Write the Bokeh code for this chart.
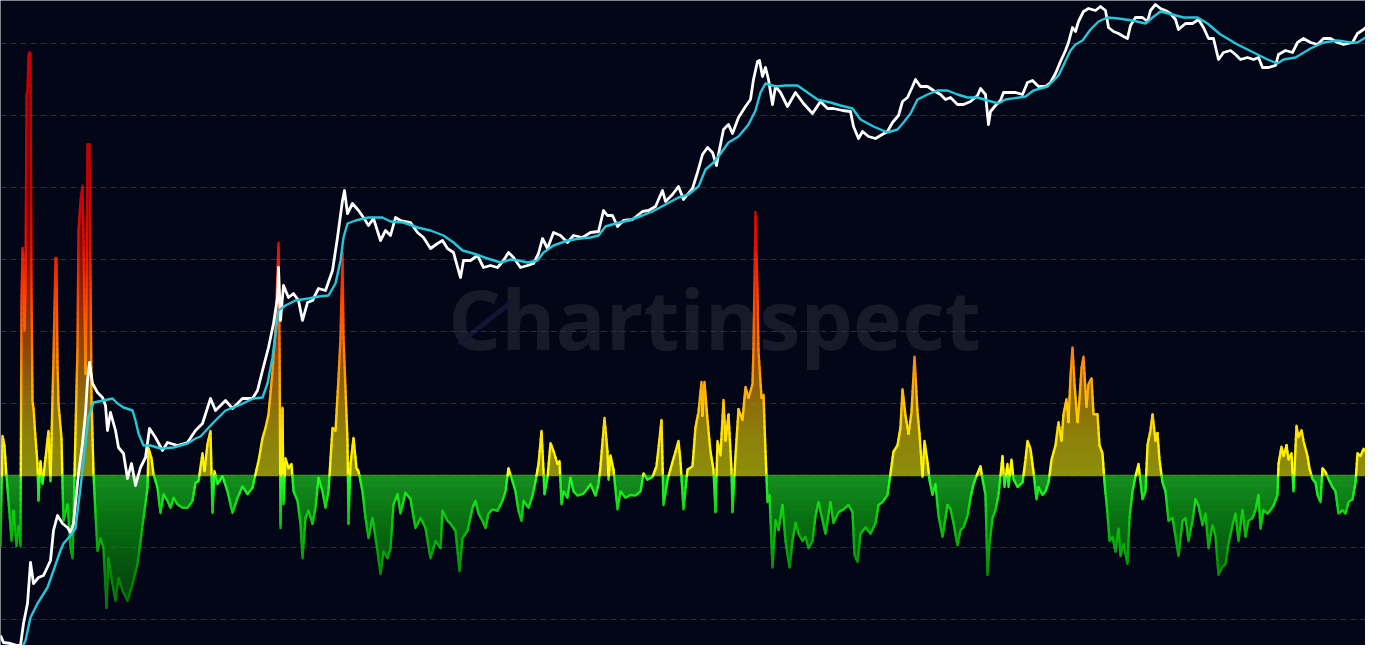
import numpy as np
from bokeh.plotting import figure
from bokeh.models import Range1d, Grid, FixedTicker, Span
from bokeh.core.properties import value
from bokeh.embed import file_html
from bokeh.resources import INLINE

# ---------------- data ----------------
# price (white) : decimal year / log10 price
price_year = [2010.50, 2010.53, 2010.60, 2010.67, 2010.70, 2010.73, 2010.77, 2010.80, 2010.83, 2010.88,
              2010.93, 2011.00, 2011.03, 2011.07, 2011.12, 2011.17, 2011.20, 2011.23, 2011.28, 2011.32,
              2011.35, 2011.37, 2011.39, 2011.42, 2011.47, 2011.52, 2011.55, 2011.57, 2011.60, 2011.65,
              2011.68, 2011.73, 2011.77, 2011.81, 2011.85, 2011.90, 2011.95, 2011.99, 2012.05, 2012.12,
              2012.17, 2012.27, 2012.37, 2012.45, 2012.52, 2012.60, 2012.65, 2012.75, 2012.82, 2012.92,
              2013.02, 2013.07, 2013.12, 2013.18, 2013.23, 2013.27, 2013.28, 2013.30, 2013.33, 2013.38,
              2013.43, 2013.48, 2013.52, 2013.57, 2013.62, 2013.68, 2013.75, 2013.82, 2013.87, 2013.92,
              2013.94, 2013.97, 2014.02, 2014.08, 2014.13, 2014.18, 2014.23, 2014.30, 2014.35, 2014.40,
              2014.45, 2014.50, 2014.60, 2014.67, 2014.73, 2014.80, 2014.87, 2014.92, 2014.97, 2015.03,
              2015.08, 2015.10, 2015.13, 2015.20, 2015.27, 2015.33, 2015.40, 2015.47, 2015.53, 2015.58,
              2015.63, 2015.70, 2015.77, 2015.83, 2015.88, 2015.92, 2015.97, 2016.03, 2016.10, 2016.17,
              2016.23, 2016.32, 2016.40, 2016.48, 2016.53, 2016.57, 2016.62, 2016.67, 2016.73, 2016.82,
              2016.92, 2016.98, 2017.05, 2017.12, 2017.15, 2017.22, 2017.28, 2017.33, 2017.37, 2017.42,
              2017.47, 2017.52, 2017.57, 2017.62, 2017.66, 2017.68, 2017.73, 2017.78, 2017.82, 2017.88,
              2017.95, 2018.00, 2018.03, 2018.07, 2018.09, 2018.12, 2018.15, 2018.18, 2018.22, 2018.25,
              2018.30, 2018.37, 2018.45, 2018.53, 2018.62, 2018.70, 2018.77, 2018.83, 2018.92, 2019.00,
              2019.03, 2019.08, 2019.12, 2019.18, 2019.25, 2019.30, 2019.37, 2019.42, 2019.48, 2019.52,
              2019.57, 2019.62, 2019.65, 2019.70, 2019.77, 2019.83, 2019.90, 2019.95, 2020.00, 2020.07,
              2020.13, 2020.20, 2020.27, 2020.30, 2020.35, 2020.38, 2020.40, 2020.45, 2020.50, 2020.53,
              2020.58, 2020.65, 2020.72, 2020.77, 2020.82, 2020.88, 2020.95, 2021.00, 2021.05, 2021.10,
              2021.15, 2021.18, 2021.22, 2021.25, 2021.28, 2021.33, 2021.38, 2021.45, 2021.50, 2021.55,
              2021.58, 2021.63, 2021.68, 2021.73, 2021.77, 2021.80, 2021.85, 2021.92, 2021.97, 2022.00,
              2022.05, 2022.10, 2022.15, 2022.20, 2022.25, 2022.28, 2022.35, 2022.42, 2022.48, 2022.53,
              2022.58, 2022.63, 2022.68, 2022.73, 2022.80, 2022.85, 2022.90, 2022.97, 2023.03, 2023.08,
              2023.12, 2023.18, 2023.25, 2023.28, 2023.35, 2023.42, 2023.47, 2023.53, 2023.60, 2023.67,
              2023.73, 2023.80, 2023.87, 2023.93, 2024.02, 2024.07, 2024.13, 2024.20, 2024.27, 2024.31]
price_log10 = [-1.35, -1.42, -1.43, -1.45, -1.45, -1.23, -1.03, -0.62, -0.83, -0.77,
               -0.75, -0.60, -0.30, -0.15, -0.23, -0.27, -0.32, -0.23, 0.27, 0.57,
               0.87, 1.20, 1.38, 1.17, 1.08, 1.03, 0.95, 0.70, 0.88, 0.70,
               0.53, 0.47, 0.22, 0.37, 0.15, 0.33, 0.43, 0.72, 0.63, 0.50,
               0.58, 0.55, 0.58, 0.70, 0.77, 1.02, 0.90, 1.00, 0.92, 1.02,
               1.02, 1.10, 1.30, 1.53, 1.77, 2.03, 2.33, 1.80, 2.15, 2.03,
               2.07, 2.00, 1.80, 1.98, 2.00, 2.12, 2.10, 2.30, 2.63, 3.00,
               3.10, 2.87, 2.97, 2.90, 2.83, 2.75, 2.82, 2.60, 2.70, 2.65,
               2.83, 2.80, 2.78, 2.68, 2.63, 2.52, 2.57, 2.60, 2.52, 2.48,
               2.30, 2.23, 2.40, 2.40, 2.45, 2.33, 2.35, 2.33, 2.40, 2.48,
               2.43, 2.33, 2.35, 2.37, 2.47, 2.62, 2.52, 2.68, 2.65, 2.58,
               2.65, 2.63, 2.68, 2.69, 2.90, 2.85, 2.85, 2.74, 2.80, 2.81,
               2.89, 2.90, 2.94, 3.10, 2.99, 3.06, 3.14, 3.01, 3.06, 3.12,
               3.28, 3.46, 3.53, 3.48, 3.35, 3.46, 3.71, 3.76, 3.67, 3.83,
               3.94, 4.01, 4.21, 4.39, 4.40, 4.24, 4.33, 4.21, 3.96, 4.14,
               4.08, 3.94, 4.08, 3.97, 3.87, 3.99, 3.92, 3.92, 3.90, 3.89,
               3.74, 3.62, 3.69, 3.64, 3.62, 3.65, 3.69, 3.78, 3.85, 3.99,
               4.03, 4.14, 4.21, 4.14, 4.14, 4.10, 4.06, 4.01, 4.03, 3.96,
               3.96, 3.99, 4.05, 4.12, 4.06, 3.76, 3.89, 3.95, 4.00, 4.08,
               4.08, 4.08, 4.06, 4.18, 4.20, 4.14, 4.14, 4.18, 4.27, 4.39,
               4.50, 4.58, 4.73, 4.69, 4.79, 4.89, 4.92, 4.90, 4.94, 4.90,
               4.73, 4.69, 4.67, 4.64, 4.62, 4.75, 4.83, 4.83, 4.79, 4.90,
               4.96, 4.92, 4.90, 4.87, 4.81, 4.71, 4.77, 4.77, 4.81, 4.73,
               4.62, 4.62, 4.41, 4.48, 4.50, 4.46, 4.41, 4.43, 4.41, 4.43,
               4.33, 4.33, 4.35, 4.46, 4.50, 4.48, 4.58, 4.62, 4.58, 4.56,
               4.62, 4.62, 4.58, 4.56, 4.58, 4.67, 4.71, 4.77, 4.79, 4.81]

# moving average (cyan) : decimal year / log10 price
ma_year = [2010.50, 2010.60, 2010.70, 2010.75, 2010.80, 2010.87, 2010.97, 2011.03, 2011.10, 2011.13,
           2011.20, 2011.25, 2011.30, 2011.35, 2011.38, 2011.43, 2011.53, 2011.62, 2011.67, 2011.73,
           2011.82, 2011.85, 2011.88, 2011.93, 2012.00, 2012.10, 2012.23, 2012.37, 2012.45, 2012.50,
           2012.62, 2012.75, 2012.88, 2013.03, 2013.12, 2013.17, 2013.22, 2013.25, 2013.28, 2013.35,
           2013.45, 2013.58, 2013.68, 2013.78, 2013.85, 2013.90, 2013.93, 2013.97, 2014.05, 2014.18,
           2014.32, 2014.40, 2014.53, 2014.67, 2014.80, 2014.93, 2015.03, 2015.12, 2015.23, 2015.37,
           2015.50, 2015.60, 2015.68, 2015.77, 2015.87, 2015.93, 2016.03, 2016.17, 2016.30, 2016.40,
           2016.48, 2016.55, 2016.65, 2016.78, 2016.92, 2017.02, 2017.15, 2017.28, 2017.38, 2017.48,
           2017.55, 2017.62, 2017.68, 2017.78, 2017.88, 2017.98, 2018.05, 2018.10, 2018.15, 2018.25,
           2018.35, 2018.47, 2018.57, 2018.67, 2018.80, 2018.90, 2019.02, 2019.10, 2019.23, 2019.37,
           2019.47, 2019.53, 2019.60, 2019.67, 2019.77, 2019.87, 2019.97, 2020.07, 2020.17, 2020.27,
           2020.37, 2020.48, 2020.55, 2020.75, 2020.83, 2020.97, 2021.08, 2021.20, 2021.25, 2021.32,
           2021.40, 2021.48, 2021.57, 2021.68, 2021.82, 2021.95, 2022.02, 2022.10, 2022.18, 2022.33,
           2022.47, 2022.57, 2022.70, 2022.87, 2023.03, 2023.17, 2023.27, 2023.33, 2023.45, 2023.60,
           2023.73, 2023.87, 2024.00, 2024.07, 2024.20, 2024.31]
ma_log10 = [-1.58, -1.53, -1.51, -1.40, -1.17, -1.03, -0.87, -0.70, -0.50, -0.43,
            -0.35, -0.28, 0.13, 0.57, 0.83, 0.98, 1.00, 1.02, 0.97, 0.93,
            0.90, 0.80, 0.67, 0.55, 0.55, 0.52, 0.53, 0.57, 0.62, 0.64,
            0.77, 0.90, 0.95, 1.02, 1.03, 1.17, 1.43, 1.67, 1.90, 1.95,
            2.00, 2.02, 2.04, 2.05, 2.17, 2.40, 2.63, 2.77, 2.80, 2.83,
            2.83, 2.79, 2.78, 2.73, 2.70, 2.65, 2.58, 2.50, 2.47, 2.42,
            2.38, 2.41, 2.40, 2.38, 2.40, 2.48, 2.55, 2.60, 2.62, 2.63,
            2.65, 2.74, 2.77, 2.80, 2.85, 2.89, 2.96, 3.03, 3.06, 3.14,
            3.31, 3.37, 3.44, 3.58, 3.64, 3.76, 3.90, 4.08, 4.17, 4.14,
            4.15, 4.15, 4.08, 4.01, 3.98, 3.95, 3.92, 3.81, 3.74, 3.68,
            3.71, 3.78, 3.87, 4.01, 4.06, 4.10, 4.10, 4.06, 4.03, 4.03,
            4.00, 3.97, 4.01, 4.04, 4.10, 4.14, 4.25, 4.50, 4.56, 4.60,
            4.71, 4.79, 4.83, 4.82, 4.80, 4.77, 4.83, 4.89, 4.87, 4.83,
            4.83, 4.77, 4.66, 4.56, 4.48, 4.41, 4.37, 4.41, 4.43, 4.52,
            4.58, 4.60, 4.58, 4.58, 4.66, 4.71]

# oscillator : decimal year / value (0 = neutral)
osc_year = [2010.50, 2010.52, 2010.54, 2010.56, 2010.58, 2010.61, 2010.63, 2010.66, 2010.68, 2010.70,
            2010.71, 2010.72, 2010.73, 2010.74, 2010.75, 2010.76, 2010.77, 2010.78, 2010.79, 2010.80,
            2010.81, 2010.82, 2010.83, 2010.85, 2010.87, 2010.88, 2010.90, 2010.92, 2010.95, 2010.98,
            2011.00, 2011.02, 2011.03, 2011.05, 2011.06, 2011.07, 2011.08, 2011.11, 2011.12, 2011.13,
            2011.17, 2011.20, 2011.22, 2011.23, 2011.25, 2011.27, 2011.28, 2011.30, 2011.32, 2011.33,
            2011.35, 2011.36, 2011.37, 2011.39, 2011.41, 2011.43, 2011.45, 2011.47, 2011.50, 2011.53,
            2011.56, 2011.58, 2011.62, 2011.65, 2011.68, 2011.72, 2011.77, 2011.82, 2011.87, 2011.90,
            2011.93, 2011.97, 2011.98, 2012.01, 2012.03, 2012.07, 2012.10, 2012.13, 2012.17, 2012.20,
            2012.23, 2012.27, 2012.32, 2012.37, 2012.42, 2012.45, 2012.48, 2012.52, 2012.54, 2012.57,
            2012.60, 2012.62, 2012.64, 2012.67, 2012.72, 2012.77, 2012.82, 2012.87, 2012.92, 2012.97,
            2013.02, 2013.05, 2013.08, 2013.12, 2013.15, 2013.18, 2013.22, 2013.25, 2013.28, 2013.29,
            2013.30, 2013.32, 2013.33, 2013.35, 2013.38, 2013.41, 2013.43, 2013.47, 2013.50, 2013.52,
            2013.55, 2013.58, 2013.62, 2013.65, 2013.68, 2013.72, 2013.75, 2013.78, 2013.82, 2013.85,
            2013.88, 2013.90, 2013.92, 2013.93, 2013.97, 2013.98, 2014.00, 2014.03, 2014.06, 2014.08,
            2014.12, 2014.15, 2014.18, 2014.22, 2014.27, 2014.30, 2014.33, 2014.37, 2014.40, 2014.43,
            2014.47, 2014.50, 2014.55, 2014.60, 2014.65, 2014.70, 2014.75, 2014.80, 2014.85, 2014.90,
            2014.92, 2014.97, 2015.00, 2015.05, 2015.09, 2015.12, 2015.17, 2015.22, 2015.25, 2015.28,
            2015.32, 2015.35, 2015.38, 2015.42, 2015.47, 2015.52, 2015.55, 2015.58, 2015.62, 2015.65,
            2015.68, 2015.71, 2015.73, 2015.78, 2015.82, 2015.85, 2015.88, 2015.91, 2015.93, 2015.94,
            2015.97, 2016.00, 2016.03, 2016.07, 2016.09, 2016.11, 2016.13, 2016.17, 2016.20, 2016.23,
            2016.27, 2016.32, 2016.35, 2016.40, 2016.45, 2016.48, 2016.50, 2016.54, 2016.57, 2016.58,
            2016.60, 2016.63, 2016.67, 2016.70, 2016.75, 2016.80, 2016.85, 2016.90, 2016.93, 2016.97,
            2017.02, 2017.06, 2017.08, 2017.11, 2017.13, 2017.17, 2017.22, 2017.25, 2017.28, 2017.30,
            2017.33, 2017.37, 2017.42, 2017.45, 2017.48, 2017.51, 2017.52, 2017.54, 2017.57, 2017.60,
            2017.63, 2017.65, 2017.67, 2017.70, 2017.73, 2017.75, 2017.78, 2017.81, 2017.82, 2017.85,
            2017.88, 2017.92, 2017.95, 2017.98, 2018.02, 2018.03, 2018.05, 2018.07, 2018.08, 2018.11,
            2018.13, 2018.15, 2018.17, 2018.19, 2018.22, 2018.25, 2018.28, 2018.32, 2018.35, 2018.37,
            2018.39, 2018.42, 2018.45, 2018.48, 2018.52, 2018.55, 2018.58, 2018.62, 2018.65, 2018.68,
            2018.72, 2018.75, 2018.80, 2018.83, 2018.88, 2018.93, 2018.98, 2019.02, 2019.04, 2019.07,
            2019.10, 2019.15, 2019.20, 2019.25, 2019.28, 2019.32, 2019.37, 2019.40, 2019.43, 2019.47,
            2019.50, 2019.52, 2019.55, 2019.58, 2019.61, 2019.64, 2019.67, 2019.69, 2019.72, 2019.74,
            2019.77, 2019.79, 2019.82, 2019.85, 2019.88, 2019.92, 2019.97, 2020.00, 2020.03, 2020.07,
            2020.10, 2020.13, 2020.17, 2020.20, 2020.23, 2020.27, 2020.30, 2020.32, 2020.35, 2020.37,
            2020.39, 2020.42, 2020.45, 2020.48, 2020.52, 2020.54, 2020.57, 2020.58, 2020.61, 2020.63,
            2020.67, 2020.72, 2020.75, 2020.77, 2020.80, 2020.83, 2020.86, 2020.88, 2020.92, 2020.95,
            2020.98, 2021.01, 2021.05, 2021.08, 2021.11, 2021.13, 2021.16, 2021.18, 2021.20, 2021.22,
            2021.24, 2021.27, 2021.29, 2021.31, 2021.33, 2021.36, 2021.38, 2021.41, 2021.43, 2021.47,
            2021.49, 2021.52, 2021.54, 2021.57, 2021.59, 2021.62, 2021.65, 2021.68, 2021.70, 2021.73,
            2021.77, 2021.79, 2021.82, 2021.85, 2021.88, 2021.92, 2021.95, 2021.97, 2022.00, 2022.02,
            2022.05, 2022.07, 2022.09, 2022.12, 2022.15, 2022.18, 2022.22, 2022.25, 2022.28, 2022.32,
            2022.35, 2022.38, 2022.42, 2022.45, 2022.48, 2022.52, 2022.55, 2022.58, 2022.62, 2022.65,
            2022.68, 2022.72, 2022.75, 2022.78, 2022.82, 2022.85, 2022.88, 2022.92, 2022.95, 2022.98,
            2023.02, 2023.05, 2023.08, 2023.10, 2023.13, 2023.17, 2023.20, 2023.23, 2023.27, 2023.28,
            2023.31, 2023.33, 2023.36, 2023.38, 2023.41, 2023.43, 2023.46, 2023.48, 2023.51, 2023.53,
            2023.57, 2023.59, 2023.62, 2023.65, 2023.67, 2023.70, 2023.72, 2023.75, 2023.78, 2023.82,
            2023.85, 2023.88, 2023.92, 2023.95, 2023.98, 2024.02, 2024.05, 2024.07, 2024.10, 2024.13,
            2024.17, 2024.20, 2024.23, 2024.27, 2024.31]
osc_value = [-0.98, 0.55, 0.41, -0.01, -0.35, -0.91, -0.49, -0.98, -0.70, -0.98,
             2.42, 3.16, 3.05, 2.01, 2.56, 5.30, 5.34, 5.83, 5.88, 5.87,
             2.56, 1.03, 0.94, 0.52, 0.16, -0.35, 0.20, -0.12, 0.24, 0.62,
             -0.08, 1.08, 1.63, 3.02, 3.02, 1.55, 0.99, 0.52, -0.12, -0.63,
             -0.40, -1.01, -1.15, -0.63, 0.62, 1.77, 3.40, 3.81, 4.02, 3.35,
             1.41, 2.42, 4.60, 4.60, 1.08, 0.02, -0.53, -1.05, -0.87, -1.01,
             -1.84, -1.15, -1.51, -1.74, -1.42, -1.60, -1.74, -1.51, -1.23, -0.91,
             -0.59, -0.17, 0.38, 0.24, 0.02, -0.17, -0.52, -0.26, -0.35, -0.45,
             -0.31, -0.40, -0.45, -0.45, -0.35, -0.10, -0.08, 0.31, 0.06, 0.44,
             0.62, -0.52, 0.06, -0.12, -0.01, -0.22, -0.52, -0.31, -0.15, -0.26,
             -0.17, 0.02, 0.20, 0.52, 0.66, 0.85, 1.45, 2.01, 3.23, 1.91,
             -0.73, 0.94, -0.40, 0.24, 0.10, 0.16, -0.22, -0.35, -0.67, -1.15,
             -0.59, -0.49, -0.67, -0.45, -0.03, -0.22, -0.45, -0.22, 0.66, 0.62,
             1.35, 1.91, 3.09, 1.91, 0.48, -0.67, 0.16, 0.52, 0.10, 0.06,
             -0.22, -0.59, -0.87, -0.59, -1.05, -1.37, -1.05, -1.15, -1.01, -0.40,
             -0.26, -0.53, -0.24, -0.33, -0.73, -0.59, -0.73, -1.15, -0.91, -1.01,
             -0.49, -0.63, -0.67, -0.77, -1.33, -0.87, -0.77, -0.45, -0.35, -0.53,
             -0.63, -0.73, -0.53, -0.47, -0.49, -0.35, -0.22, 0.10, -0.08, -0.22,
             -0.49, -0.63, -0.35, -0.45, -0.28, -0.08, 0.16, 0.62, 0.06, -0.26,
             -0.03, 0.45, 0.34, 0.16, 0.20, -0.40, -0.22, -0.31, -0.03, -0.22,
             -0.28, -0.26, -0.22, -0.12, -0.28, -0.12, 0.13, 0.80, 0.33, -0.06,
             0.28, 0.08, -0.47, -0.22, -0.31, -0.27, -0.28, -0.22, 0.03, -0.06,
             -0.02, 0.13, 0.38, 0.77, -0.41, -0.06, 0.19, 0.33, 0.48, 0.19,
             -0.47, 0.08, 0.13, 0.67, 0.88, 1.30, 0.83, 1.30, 0.77, 0.33,
             0.08, -0.51, 0.48, 0.28, 1.05, 0.48, 0.85, 0.08, -0.51, 0.28,
             0.92, 0.77, 1.23, 1.08, 1.27, 1.77, 3.66, 2.56, 1.72, 1.08,
             1.12, 0.33, -0.37, -0.27, -1.28, -0.62, -0.76, -0.41, -0.91, -1.10,
             -1.28, -0.91, -0.66, -0.81, -0.91, -0.85, -1.01, -0.91, -0.56, -0.37,
             -0.62, -0.81, -0.37, -0.66, -0.51, -0.47, -0.41, -0.51, -1.10, -1.20,
             -0.81, -0.72, -0.81, -0.66, -0.41, -0.37, -0.27, 0.03, 0.33, 0.42,
             0.67, 1.20, 0.83, 0.58, 0.88, 1.65, 0.88, 0.58, -0.02, 0.48,
             0.19, -0.06, -0.27, -0.12, -0.56, -0.85, -0.41, -0.47, -0.66, -0.97,
             -0.76, -0.72, -0.56, -0.31, -0.12, 0.03, 0.13, -0.05, -0.27, -1.38,
             -0.95, -0.59, -0.48, -0.27, 0.27, -0.16, 0.16, -0.16, 0.22, -0.05,
             -0.16, -0.10, 0.22, 0.48, 0.37, 0.05, -0.33, -0.16, -0.27, -0.22,
             -0.10, 0.22, 0.42, 0.74, 0.48, 0.85, 1.06, 0.74, 1.38, 1.78,
             1.27, 0.74, 1.06, 1.49, 1.65, 0.95, 1.27, 1.35, 0.85, 0.85,
             0.42, 0.31, -0.10, -0.53, -0.91, -0.85, -1.06, -0.74, -1.12, -0.95,
             -1.23, -0.59, -0.22, -0.01, 0.16, -0.33, -0.22, 0.42, 0.63, 0.85,
             0.48, 0.59, 0.22, -0.10, -0.22, -0.63, -0.59, -0.85, -1.12, -0.63,
             -0.59, -0.91, -0.63, -0.33, -0.42, -0.69, -0.53, -1.01, -0.69, -0.85,
             -1.38, -1.27, -1.23, -0.95, -0.69, -0.53, -0.91, -0.48, -0.85, -0.63,
             -0.59, -0.48, -0.27, -0.74, -0.48, -0.53, -0.48, -0.42, -0.27, 0.16,
             0.40, 0.27, 0.42, 0.22, 0.31, -0.22, 0.69, 0.53, 0.63, 0.48,
             0.27, 0.10, -0.05, -0.10, -0.27, -0.37, 0.10, 0.05, -0.05, -0.16,
             -0.22, -0.53, -0.48, -0.53, -0.37, -0.33, -0.10, 0.31, 0.27, 0.37,
             0.31, 0.66, 0.37, 0.42, 0.05]

grid_levels = [-2, -1, 0, 1, 2, 3, 4, 5, 6]
watermark_text = "Chartinspect"
watermark_x = 2017.64
watermark_y = 2.19
logo_x = [2015.10, 2015.60]
logo_y = [1.85, 2.40]

# ---------------- styling ----------------
BG = "#020617"
BG_RGB = (2, 6, 23)
POS_STOPS = [(0.0, (255, 255, 0)), (0.6, (255, 226, 0)), (1.2, (255, 176, 0)), (1.8, (255, 120, 0)),
             (2.5, (255, 64, 0)), (3.2, (224, 16, 0)), (4.0, (200, 0, 0)), (7.0, (192, 0, 0))]
NEG_STOPS = [(0.0, (40, 255, 40)), (0.5, (16, 210, 16)), (1.0, (8, 168, 8)), (1.5, (5, 130, 5)),
             (2.5, (3, 90, 3)), (4.0, (3, 80, 3))]
FILL_ALPHA = 0.55
STEP = 1.0 / 12.0


def osc_rgb(v):
    stops = POS_STOPS if v >= 0 else NEG_STOPS
    a = abs(v)
    for (p0, c0), (p1, c1) in zip(stops[:-1], stops[1:]):
        if a <= p1:
            t = (a - p0) / (p1 - p0)
            return [c0[i] + t * (c1[i] - c0[i]) for i in range(3)]
    return list(stops[-1][1])


def to_hex(c):
    return "#%02x%02x%02x" % tuple(int(round(max(0, min(255, x)))) for x in c)


def osc_color(v):
    return to_hex(osc_rgb(v))


def fill_color(v):
    c = osc_rgb(v)
    return to_hex([FILL_ALPHA * c[i] + (1 - FILL_ALPHA) * BG_RGB[i] for i in range(3)])


def densify(xs, vs):
    X, V = [xs[0]], [vs[0]]
    for i in range(len(xs) - 1):
        xa, va, xb, vb = xs[i], vs[i], xs[i + 1], vs[i + 1]
        if va != vb:
            lo, hi = min(va, vb), max(va, vb)
            k0 = int(np.floor(lo / STEP)) + 1
            k1 = int(np.ceil(hi / STEP)) - 1
            ks = list(range(k0, k1 + 1))
            if va > vb:
                ks = ks[::-1]
            for k in ks:
                lv = k * STEP
                t = (lv - va) / (vb - va)
                X.append(xa + t * (xb - xa))
                V.append(lv)
        X.append(xb)
        V.append(vb)
    return np.array(X), np.array(V)


n = min(len(osc_year), len(osc_value))
X, V = densify(osc_year[:n], osc_value[:n])

# gradient fill: opaque nested bands (drawn outermost first, each overlapping the next)
fill_xs, fill_ys, fill_cols = [], [], []


def add_runs(mask, lo, hi, base, col):
    idx = np.flatnonzero(mask)
    if len(idx) == 0:
        return
    br = np.flatnonzero(np.diff(idx) > 1)
    starts = np.r_[idx[0], idx[br + 1]]
    ends = np.r_[idx[br], idx[-1]]
    for s, e in zip(starts, ends):
        s0, e0 = max(s - 1, 0), min(e + 1, len(V) - 1)
        xx = X[s0:e0 + 1]
        yy = np.clip(V[s0:e0 + 1], lo, hi)
        fill_xs.append(list(np.r_[xx, xx[-1], xx[0]]))
        fill_ys.append(list(np.r_[yy, base, base]))
        fill_cols.append(col)


kpos = int(np.ceil(V.max() / STEP)) + 1
for k in reversed(range(kpos)):
    a, b = k * STEP, (k + 1) * STEP
    base = max(k - 1, 0) * STEP
    add_runs(V > base, base, b, base, fill_color(a + STEP / 2))
kneg = int(np.ceil(-V.min() / STEP)) + 1
for k in reversed(range(kneg)):
    b, a = -k * STEP, -(k + 1) * STEP
    base = -max(k - 1, 0) * STEP
    add_runs(V < base, a, base, base, fill_color(b - STEP / 2))

# line pieces coloured by value
seg_xs, seg_ys, seg_cols = [], [], []
cur_x, cur_y, cur_band = [X[0]], [V[0]], None
for i in range(len(X) - 1):
    mid = 0.5 * (V[i] + V[i + 1])
    band = int(np.floor(mid / STEP))
    if cur_band is None:
        cur_band = band
    if band != cur_band:
        seg_xs.append(cur_x); seg_ys.append(cur_y)
        seg_cols.append(osc_color((cur_band + 0.5) * STEP))
        cur_x, cur_y, cur_band = [X[i]], [V[i]], band
    cur_x.append(X[i + 1]); cur_y.append(V[i + 1])
seg_xs.append(cur_x); seg_ys.append(cur_y)
seg_cols.append(osc_color((cur_band + 0.5) * STEP))

# ---------------- figure ----------------
p = figure(width=1365, height=645, output_backend="svg", toolbar_location=None,
           x_range=Range1d(2010.50, 2024.15), y_range=Range1d(-170 / 72, 475 / 72),
           x_axis_location=None, y_axis_location=None,
           background_fill_color=BG, border_fill_color=BG, min_border=0,
           outline_line_color=None)
p.extra_y_ranges = {"price": Range1d(-1.45, 5.00)}
p.grid.visible = False

p.text(x=[watermark_x], y=[watermark_y], text=[watermark_text], text_font=value("Open Sans"),
       text_font_size="83px", text_font_style="bold", text_color="#161a29",
       text_align="center", text_baseline="alphabetic", level="image")
p.line(logo_x, logo_y, line_color="#141735", line_width=5, line_alpha=0.9, line_cap="round",
       level="image")

p.add_layout(Grid(dimension=1, ticker=FixedTicker(ticks=grid_levels), grid_line_color="#1d212e",
                  grid_line_width=1, grid_line_dash="6 4"))

p.patches(xs=fill_xs, ys=fill_ys, fill_color=fill_cols, line_color=None)
p.add_layout(Grid(dimension=1, ticker=FixedTicker(ticks=grid_levels), grid_line_color="#ffffff",
                  grid_line_alpha=0.07, grid_line_width=1, grid_line_dash="6 4", level="glyph"))
p.add_layout(Span(location=0, dimension="width", line_color="#7d9a08", line_width=1.5,
                  line_alpha=0.9, level="underlay"))
p.multi_line(xs=seg_xs, ys=seg_ys, line_color=seg_cols, line_width=2.4,
             line_join="round", line_cap="round")

p.line(price_year[:len(price_log10)], price_log10[:len(price_year)], y_range_name="price",
       line_color="#ffffff", line_width=2.8, line_join="round")
p.line(ma_year[:len(ma_log10)], ma_log10[:len(ma_year)], y_range_name="price",
       line_color="#26c6da", line_width=2.4, line_join="round")

open("out.html", "w").write(file_html(p, INLINE))
